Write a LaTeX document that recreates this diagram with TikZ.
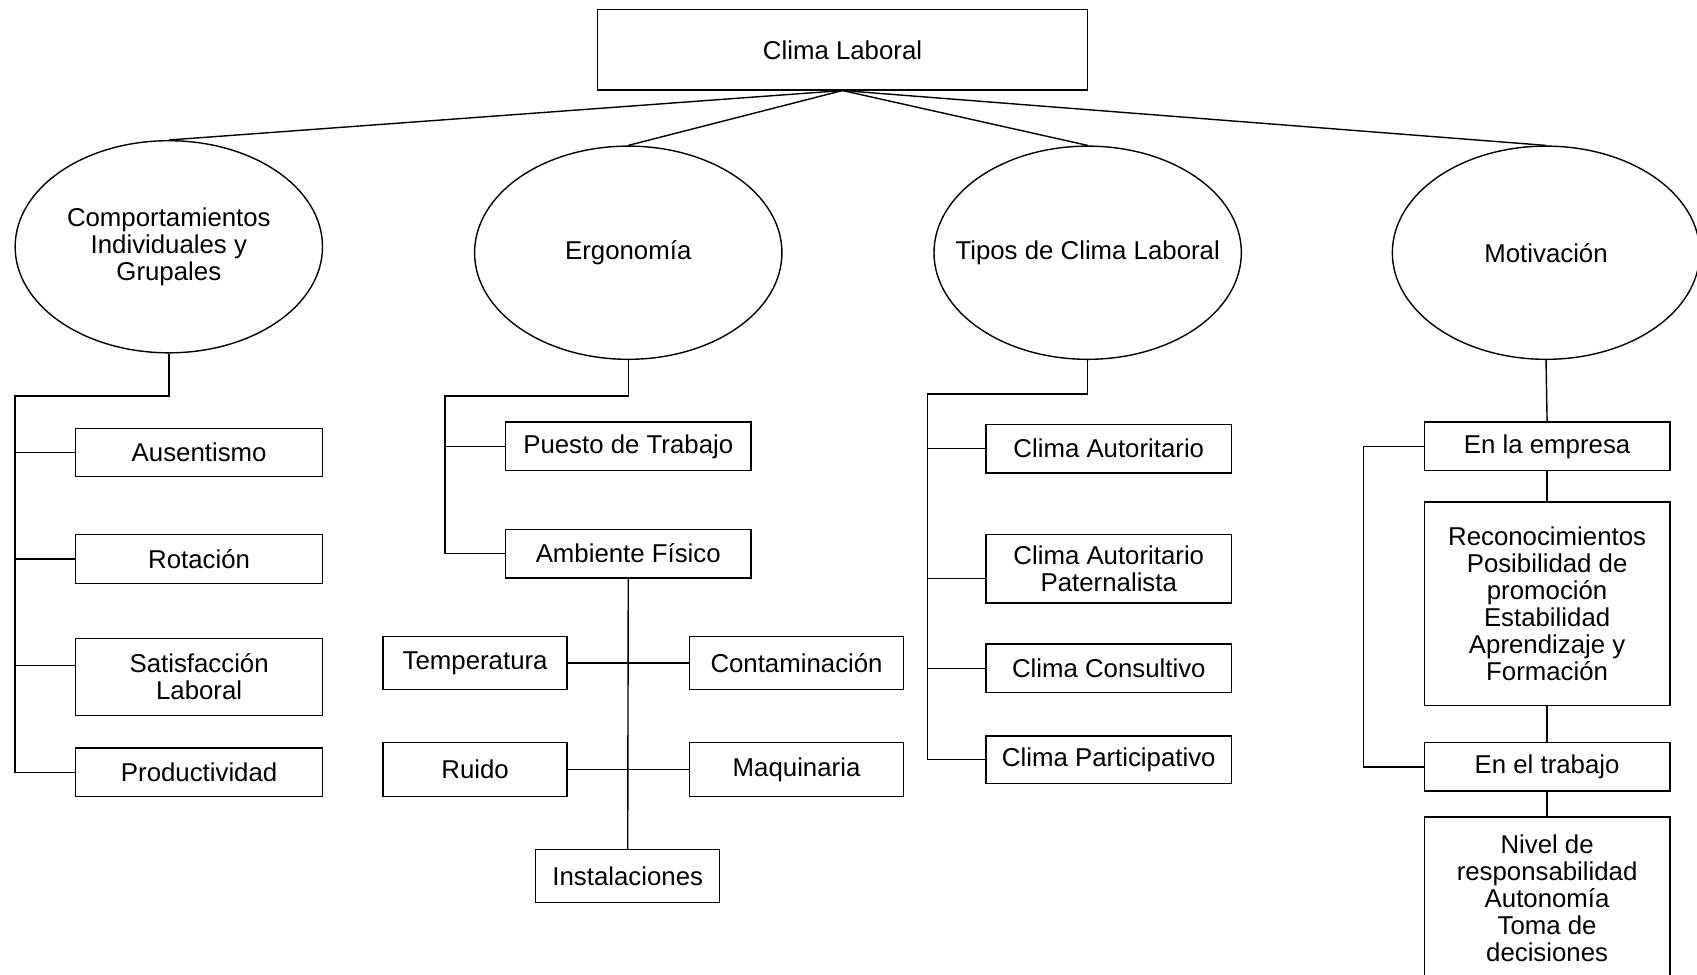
\documentclass[tikz,border=0pt]{standalone}
\usepackage{fontspec}
\setmainfont{Liberation Sans}
\usetikzlibrary{shapes.geometric}

\begin{document}
\begin{tikzpicture}[x=0.5411pt,y=0.5411pt,yscale=-1,
  font=\fontsize{12.9}{13.5}\selectfont, line width=0.7pt,
  box/.style 2 args={draw, rectangle, align=center, inner sep=0pt,
    minimum width=#1*0.5411pt, minimum height=#2*0.5411pt},
  elli/.style={draw, ellipse, inner sep=0pt,
    minimum width=284*0.5411pt, minimum height=197*0.5411pt}]
\useasboundingbox (0,0) rectangle (1568,900);
\clip (0,0) rectangle (1568,900);

% root and the four topics
\node[box={453}{74}] (root) at (778.5,46) {Clima Laboral};
\node[elli, minimum height=196*0.5411pt, label={[align=center]center:Comportamientos\\Individuales y\\Grupales}] (comp) at (156,228) {};
\node[elli, label=center:Ergonomía] (ergo) at (580.5,233.5) {};
\node[elli, label=center:Tipos de Clima Laboral] (tipos) at (1005,233.5) {};
\node[elli, label=center:Motivación] (moti) at (1428.5,233.5) {};

\draw (root.south) -- (comp.north);
\draw (root.south) -- (ergo.north);
\draw (root.south) -- (tipos.north);
\draw (root.south) -- (moti.north);

% comportamientos
\node[box={228}{44}] (aus) at (184,418) {Ausentismo};
\node[box={228}{45}] (rot) at (184,516.5) {Rotación};
\node[box={228}{71}] (sat) at (184,625.5) {Satisfacción\\Laboral};
\node[box={228}{45}] (prod) at (184,713.5) {Productividad};
\coordinate (bus1) at (14,366);
\coordinate (satin) at ([yshift=-5.7pt]sat.west);
\draw (comp.south) |- (bus1) |- (prod.west);
\draw (bus1 |- aus.west) -- (aus.west);
\draw (bus1 |- rot.west) -- (rot.west);
\draw (bus1 |- satin) -- (satin);

% ergonomia
\node[box={227}{45}] (puesto) at (580.5,412.5) {Puesto de Trabajo};
\node[box={227}{45}] (amb) at (580.5,511.5) {Ambiente Físico};
\node[box={170}{49}] (temp) at (439,612.5) {Temperatura};
\node[box={198}{49}] (cont) at (736,612.5) {Contaminación};
\node[box={170}{50}] (ruido) at (439,711) {Ruido};
\node[box={198}{50}] (maq) at (736,711) {Maquinaria};
\node[box={170}{49}] (inst) at (580,809.5) {Instalaciones};
\coordinate (bus2) at (411,366);
\draw (ergo.south) |- (bus2) |- (amb.west);
\draw (bus2 |- puesto.west) -- (puesto.west);
\draw (amb.south) -- (inst.north);
\draw (temp.east) -- (cont.west);
\draw (ruido.east) -- (maq.west);

% tipos de clima
\node[box={227}{45}] (caut) at (1024.5,414.5) {Clima Autoritario};
\node[box={227}{63}] (cpat) at (1024.5,525.5) {Clima Autoritario\\Paternalista};
\node[box={227}{45}] (ccons) at (1024.5,617.5) {Clima Consultivo};
\node[box={227}{44}] (cpart) at (1024.5,702) {Clima Participativo};
\coordinate (bus3) at (857,364);
\coordinate (patin) at ([yshift=4.9pt]cpat.west);
\draw (tipos.south) |- (bus3) |- (cpart.west);
\draw (bus3 |- caut.west) -- (caut.west);
\draw (bus3 |- patin) -- (patin);
\draw (bus3 |- ccons.west) -- (ccons.west);

% motivacion
\node[box={227}{45}] (empresa) at (1429.5,412.5) {En la empresa};
\node[box={227}{188}] (recon) at (1429.5,558) {Reconocimientos\\Posibilidad de\\promoción\\Estabilidad\\Aprendizaje y\\Formación};
\node[box={227}{45}] (trabajo) at (1429.5,708.5) {En el trabajo};
\node[box={227}{150}] (nivel) at (1429.5,830) {Nivel de\\responsabilidad\\Autonomía\\Toma de\\decisiones};
\coordinate (bus4) at (1260,412.5);
\draw (moti.south) -- (empresa.north);
\draw (empresa.west) -- (bus4) |- (trabajo.west);
\draw (empresa.south) -- (recon.north);
\draw (recon.south) -- (trabajo.north);
\draw (trabajo.south) -- (nivel.north);
\end{tikzpicture}
\end{document}
